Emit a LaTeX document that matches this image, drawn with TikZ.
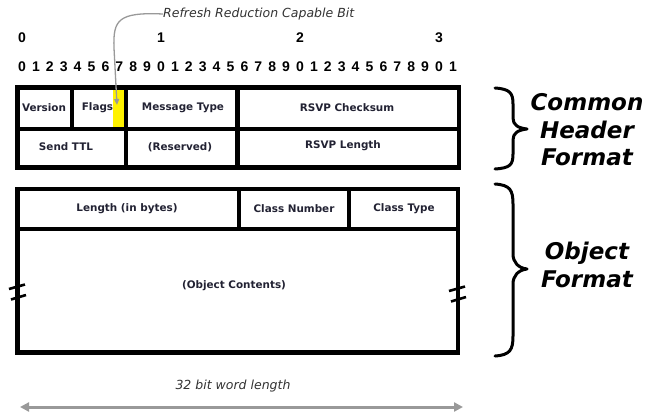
\documentclass[tikz,border=0pt]{standalone}
\usepackage{fontspec}
\setmainfont{DejaVu Sans}
\newfontfamily\digitfont{Liberation Sans}
\usetikzlibrary{fit,arrows.meta}
\definecolor{labelc}{HTML}{222233}
\definecolor{annoc}{HTML}{333333}
\definecolor{arrowc}{HTML}{999999}
\begin{document}
\begin{tikzpicture}[x=1pt,y=-1pt,
  cell/.style={draw=black, line width=4.5pt, inner sep=0pt, line join=miter},
  txt/.style={font=\fontsize{10.4}{12}\selectfont\bfseries, text=labelc, inner sep=0pt},
  bitnum/.style={font=\digitfont\fontsize{14}{16}\selectfont\bfseries, inner sep=0pt},
  anno/.style={font=\fontsize{12.5}{15}\selectfont\itshape, text=annoc, inner sep=0pt},
  bigtxt/.style={font=\fontsize{23}{27.5}\selectfont\bfseries\itshape, align=center, inner sep=0pt},
  bracestyle/.style={line width=3pt, line cap=round, line join=round},
  breakmark/.style={line width=2.6pt},
]
\useasboundingbox (0,0) rectangle (660,415);

% bit numbers
\foreach \d/\i in {0/0,1/10,2/20,3/30}
  \node[bitnum] (top\i) at (22+13.9*\i,38) {\d};
\foreach \i in {0,...,31}{
  \pgfmathtruncatemacro{\dig}{mod(\i,10)}
  \node[bitnum] (bit\i) at (22+13.9*\i,67) {\dig};
}

% yellow bit
\fill[yellow] (113.3,90) rectangle (124,126.5);

% common header
\node[cell, fit={(17.5,87.5) (72,129)}] (ver) {};
\node[cell, fit={(72,87.5) (126,129)}] (flags) {};
\node[cell, fit={(126,87.5) (237.5,129)}] (msg) {};
\node[cell, fit={(237.5,87.5) (459,129)}] (cks) {};
\node[cell, fit={(17.5,129) (126,167.5)}] (ttl) {};
\node[cell, fit={(126,129) (237.5,167.5)}] (resv) {};
\node[cell, fit={(237.5,129) (459,167.5)}] (rlen) {};
\node[txt] (tver) at (44,108) {Version};
\node[txt] (tflags) at (97.5,108) {Flags};
\node[txt] (tmsg) at (183,108) {Message Type};
\node[txt] (tcks) at (347,108) {RSVP Checksum};
\node[txt] (tttl) at (66,147) {Send TTL};
\node[txt] (tresv) at (180,147) {(Reserved)};
\node[txt] (trlen) at (343,146) {RSVP Length};

% object
\node[cell, fit={(17.5,189) (239,229)}] (len) {};
\node[cell, fit={(239,189) (349,229)}] (cnum) {};
\node[cell, fit={(349,189) (458,229)}] (ctype) {};
\node[cell, fit={(17.5,229) (458,352.5)}] (cont) {};
\node[txt] (tlen) at (127,209) {Length (in bytes)};
\node[txt] (tcnum) at (294,209) {Class Number};
\node[txt] (tctype) at (404,209) {Class Type};
\node[txt] (tcont) at (234,286) {(Object Contents)};

% break marks
\draw[breakmark] (9,289) -- (25,284.5);
\draw[breakmark] (11,299.5) -- (26,295);
\draw[breakmark] (449,291) -- (465,286.5);
\draw[breakmark] (451,301.5) -- (466,297);

% annotation
\node[anno, anchor=west] (annot) at (163,14) {Refresh Reduction Capable Bit};
\coordinate (flagbit) at (117,105);
\draw[arrowc, line width=1.3pt, -{Triangle[length=6pt,width=5pt]}]
  (annot.west) .. controls (118,12) and (113,20) .. (114,48) -- (flagbit);

% braces
\draw[bracestyle] (495,88) .. controls (510,89) and (513,93) .. (513,104)
  -- (513,118) .. controls (513,125) and (518,128) .. (527,129)
  .. controls (518,130) and (513,133) .. (513,140)
  -- (513,154) .. controls (513,165) and (510,168) .. (495,169);
\draw[bracestyle] (495,184) .. controls (510,185) and (513,190) .. (513,204)
  -- (513,254) .. controls (513,262) and (518,268) .. (527,269)
  .. controls (518,270) and (513,276) .. (513,284)
  -- (513,336) .. controls (513,350) and (510,355) .. (495,356);
\node[bigtxt] (hdr) at (587,130) {Common\\Header\\Format};
\node[bigtxt] (obj) at (587,265) {Object\\Format};

% word length
\node[anno] (wl) at (233,386) {32 bit word length};
\coordinate (wlL) at (20,407);
\coordinate (wlR) at (463,407);
\draw[arrowc, line width=3pt, {Triangle[length=9pt,width=9pt]}-{Triangle[length=9pt,width=9pt]}] (wlL) -- (wlR);
\end{tikzpicture}
\end{document}
